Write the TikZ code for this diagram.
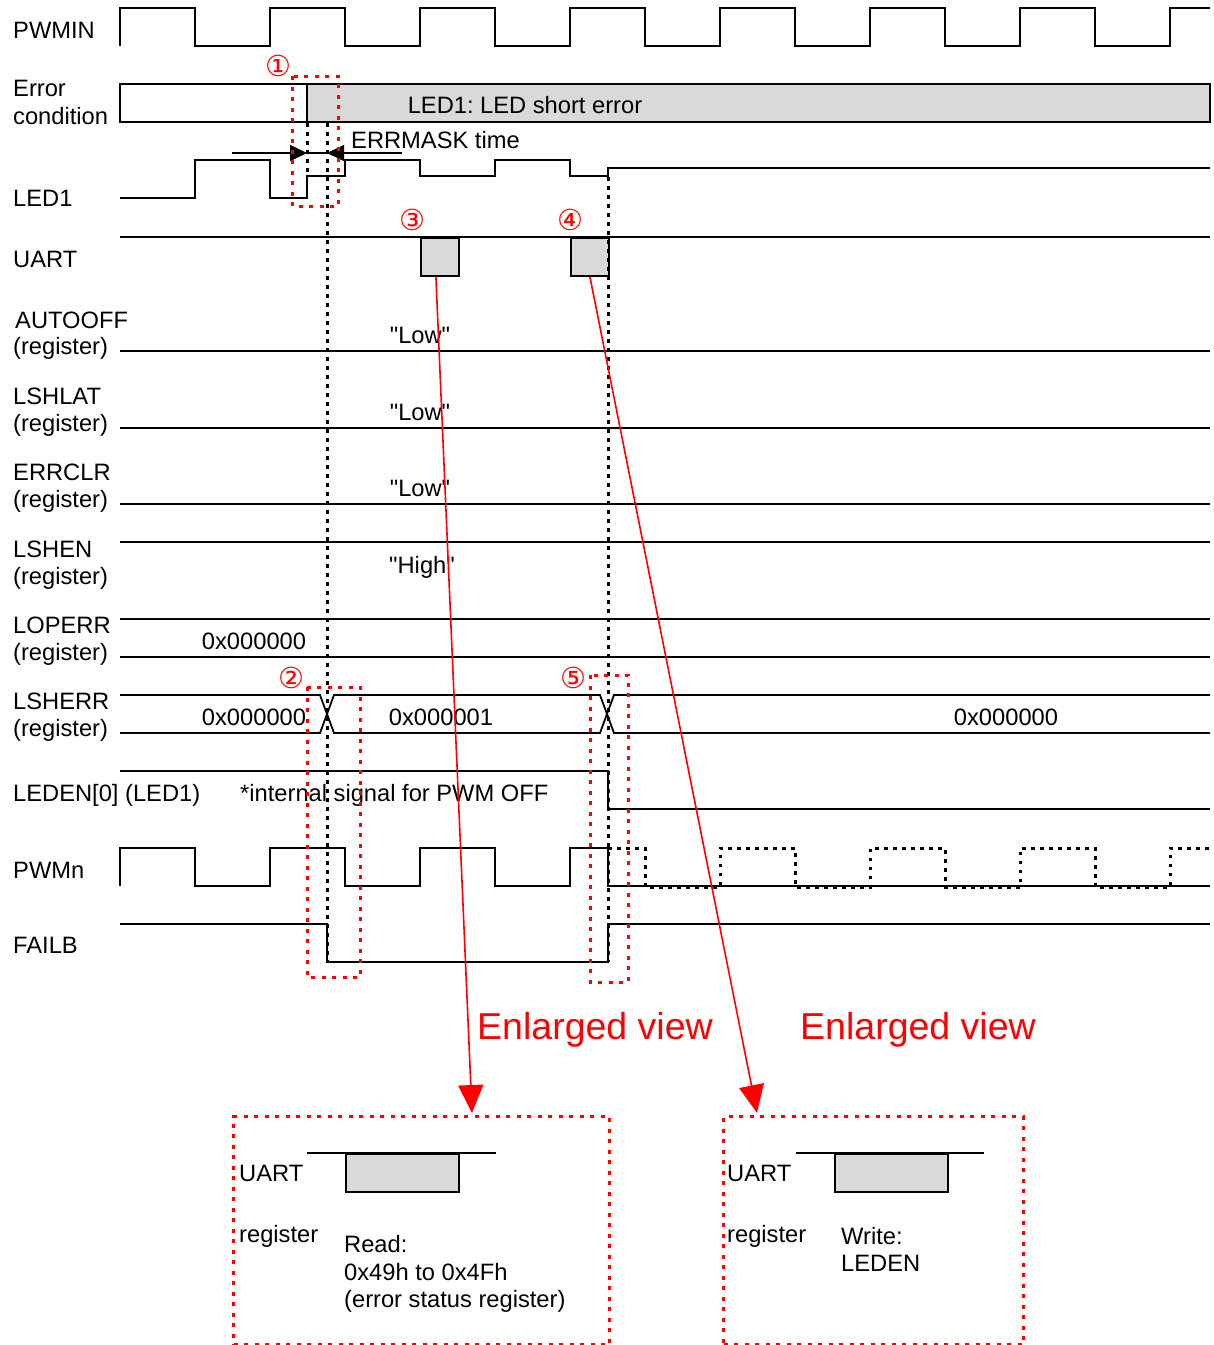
\documentclass[tikz,border=0pt]{standalone}
\usepackage{fontspec}
\setmainfont{Liberation Sans}[Ligatures=TeXOff]
\newfontfamily\circfont{DejaVu Sans}
\usetikzlibrary{arrows.meta,calc}
\definecolor{boxgray}{HTML}{D9D9D9}
\newcommand{\fs}{\frenchspacing\fontsize{23.7}{28}\selectfont}
\newcommand{\fbig}{\fontsize{37.5}{44}\selectfont}
\newcommand{\fcirc}{\circfont\fontsize{29}{32}\selectfont}
\newcommand{\qq}{"}
\begin{document}
\begin{tikzpicture}[x=1pt,y=-1pt,
  sig/.style={line width=1.8pt, line join=miter},
  dotblk/.style={line width=3pt, dash pattern=on 3.5pt off 5.5pt, black},
  dotred/.style={line width=3pt, dash pattern=on 4pt off 6.5pt, red},
  t/.style={inner sep=0pt, font=\fs, text height=17pt, text depth=0pt},
  lbl/.style={t, anchor=west},
  circ/.style={inner sep=0pt, font=\fcirc, text=red},
  big/.style={inner sep=0pt, font=\fbig, text=red},
  redarr/.style={red, line width=1.6pt, -{Triangle[length=28pt,width=25pt]}},
  pulse/.style={draw=black, fill=boxgray, line width=1.8pt, minimum height=38pt, inner sep=0pt, anchor=north west},
  maskarr/.style={line width=1.5pt, -{Triangle[length=17pt,width=16pt]}},
  enlbox/.style={draw, dotred, minimum width=376pt, minimum height=228pt, inner sep=0pt, anchor=north west},
]
\useasboundingbox[fill=white] (0,0) rectangle (1214,1345);

% ---------- row labels ----------
\node[lbl] (lPWMIN) at (13,30) {PWMIN};
\node[lbl] (lErr1) at (13,88) {Error};
\node[lbl] (lErr2) at (13,116) {condition};
\node[lbl] (lLED1) at (13,198) {LED1};
\node[lbl] (lUART) at (13,259) {UART};
\node[lbl] (lAUTO1) at (15,320) {AUTOOFF};
\node[lbl] (lAUTO2) at (13,346) {(register)};
\node[lbl] (lLSHLAT1) at (13,396) {LSHLAT};
\node[lbl] (lLSHLAT2) at (13,423) {(register)};
\node[lbl] (lERRCLR1) at (13,472) {ERRCLR};
\node[lbl] (lERRCLR2) at (13,499) {(register)};
\node[lbl] (lLSHEN1) at (13,549) {LSHEN};
\node[lbl] (lLSHEN2) at (13,576) {(register)};
\node[lbl] (lLOPERR1) at (13,625) {LOPERR};
\node[lbl] (lLOPERR2) at (13,652) {(register)};
\node[lbl] (lLSHERR1) at (13,701) {LSHERR};
\node[lbl] (lLSHERR2) at (13,728) {(register)};
\node[lbl] (lLEDEN) at (13,793) {LEDEN[0] (LED1)};
\node[lbl] (lPWMn) at (13,870) {PWMn};
\node[lbl] (lFAILB) at (13,945) {FAILB};

% ---------- PWMIN ----------
\draw[sig] (120,46) -- (120,8) -- (195,8) -- (195,46) -- (270,46) -- (270,8) -- (345,8) -- (345,46)
  -- (420,46) -- (420,8) -- (495,8) -- (495,46) -- (570,46) -- (570,8) -- (645,8) -- (645,46)
  -- (720,46) -- (720,8) -- (795,8) -- (795,46) -- (870,46) -- (870,8) -- (945,8) -- (945,46)
  -- (1020,46) -- (1020,8) -- (1095,8) -- (1095,46) -- (1170,46) -- (1170,8) -- (1210,8);

% ---------- Error condition ----------
\fill[boxgray] (307,84) rectangle (1210,122);
\draw[sig] (120,84) rectangle (1210,122);
\draw[sig] (307,84) -- (307,122);
\node[t] (errtxt) at (525,105) {LED1: LED short error};

% ---------- LED1 ----------
\draw[sig] (120,198) -- (195,198) -- (195,160) -- (270,160) -- (270,198) -- (307,198) -- (307,176)
  -- (345,176) -- (345,160) -- (420,160) -- (420,176) -- (495,176) -- (495,160) -- (570,160)
  -- (570,176) -- (608,176) -- (608,168) -- (1210,168);

% ERRMASK
\draw[maskarr] (232,153) -- (307,153);
\draw[maskarr] (402,153) -- (327,153);
\draw[line width=1.5pt] (307,153) -- (327,153);
\node[lbl] (errmask) at (351,140) {ERRMASK time};

% ---------- UART ----------
\draw[sig] (120,237) -- (1210,237);
\node[pulse, minimum width=38pt] (u3) at (420,237) {};
\node[pulse, minimum width=38pt] (u4) at (570,237) {};

% ---------- registers ----------
\draw[sig] (120,351) -- (1210,351);
\node[t] (low1) at (420,335) {\qq Low\qq};
\draw[sig] (120,428) -- (1210,428);
\node[t] (low2) at (420,412) {\qq Low\qq};
\draw[sig] (120,504) -- (1210,504);
\node[t] (low3) at (420,488) {\qq Low\qq};
\draw[sig] (120,542) -- (1210,542);
\node[t] (high1) at (422,565) {\qq High\qq};

% LOPERR
\draw[sig] (120,619) -- (1210,619);
\draw[sig] (120,657) -- (1210,657);
\node[t] (lop0) at (254,641) {0x000000};

% LSHERR
\draw[sig] (120,695) -- (320,695) -- (334,733) -- (600,733) -- (614,695) -- (1210,695);
\draw[sig] (120,733) -- (320,733) -- (334,695) -- (600,695) -- (614,733) -- (1210,733);
\node[t] (lsh0) at (254,717) {0x000000};
\node[t] (lsh1) at (441,717) {0x000001};
\node[t] (lsh2) at (1006,717) {0x000000};

% LEDEN
\draw[sig] (120,771) -- (608,771) -- (608,809) -- (1210,809);
\node[lbl] (ledentxt) at (240,793) {*internal signal for PWM OFF};

% PWMn
\draw[dotblk] (608,848) -- (645,848) -- (645,887) -- (720,887) -- (720,848) -- (795,848) -- (795,887)
  -- (870,887) -- (870,848) -- (945,848) -- (945,887) -- (1020,887) -- (1020,848) -- (1095,848)
  -- (1095,887) -- (1170,887) -- (1170,848) -- (1210,848);
\draw[sig] (120,886) -- (120,848) -- (195,848) -- (195,886) -- (270,886) -- (270,848) -- (345,848)
  -- (345,886) -- (420,886) -- (420,848) -- (495,848) -- (495,886) -- (570,886) -- (570,848)
  -- (608,848) -- (608,886) -- (1210,886);

% FAILB
\draw[sig] (120,924) -- (327,924) -- (327,962) -- (608,962) -- (608,924) -- (1210,924);

% ---------- dotted markers ----------
\draw[dotblk] (307,123) -- (307,176);
\draw[dotblk] (327,123) -- (327,962);
\draw[dotblk] (608,177) -- (608,962);

% ---------- red annotations ----------
\draw[dotred] (292,76) rectangle (338,206);
\draw[dotred] (307,687) rectangle (360,977);
\draw[dotred] (590,675) rectangle (628,982);
\node[circ] (c1) at (278,66) {①};
\node[circ] (c2) at (291,678) {②};
\node[circ] (c3) at (412,220) {③};
\node[circ] (c4) at (570,220) {④};
\node[circ] (c5) at (573,678) {⑤};

\node[big] (ev1) at (595,1030) {Enlarged view};
\node[big] (ev2) at (918,1030) {Enlarged view};

% ---------- enlarged views ----------
\node[enlbox] (enl1) at (232,1115) {};
\draw[sig] (307,1153) -- (496,1153);
\node[pulse, minimum width=113pt] (e1p) at (345,1153) {};
\node[lbl] (e1u) at (239,1173) {UART};
\node[lbl] (e1r) at (239,1234) {register};
\node[lbl] (e1a) at (344,1244) {Read:};
\node[lbl] (e1b) at (344,1272) {0x49h to 0x4Fh};
\node[lbl] (e1c) at (344,1299) {(error status register)};

\node[enlbox, minimum width=300pt] (enl2) at (722,1115) {};
\draw[sig] (796,1153) -- (984,1153);
\node[pulse, minimum width=113pt] (e2p) at (834,1153) {};
\node[lbl] (e2u) at (727,1173) {UART};
\node[lbl] (e2r) at (727,1234) {register};
\node[lbl] (e2a) at (841,1236) {Write:};
\node[lbl] (e2b) at (841,1263) {LEDEN};

\draw[redarr] ($(u3.south)+(-4,0)$) -- ($(enl1.north west)+(240,-2)$);
\draw[redarr] (u4.south) -- ($(enl2.north west)+(35,-2)$);
\end{tikzpicture}
\end{document}
